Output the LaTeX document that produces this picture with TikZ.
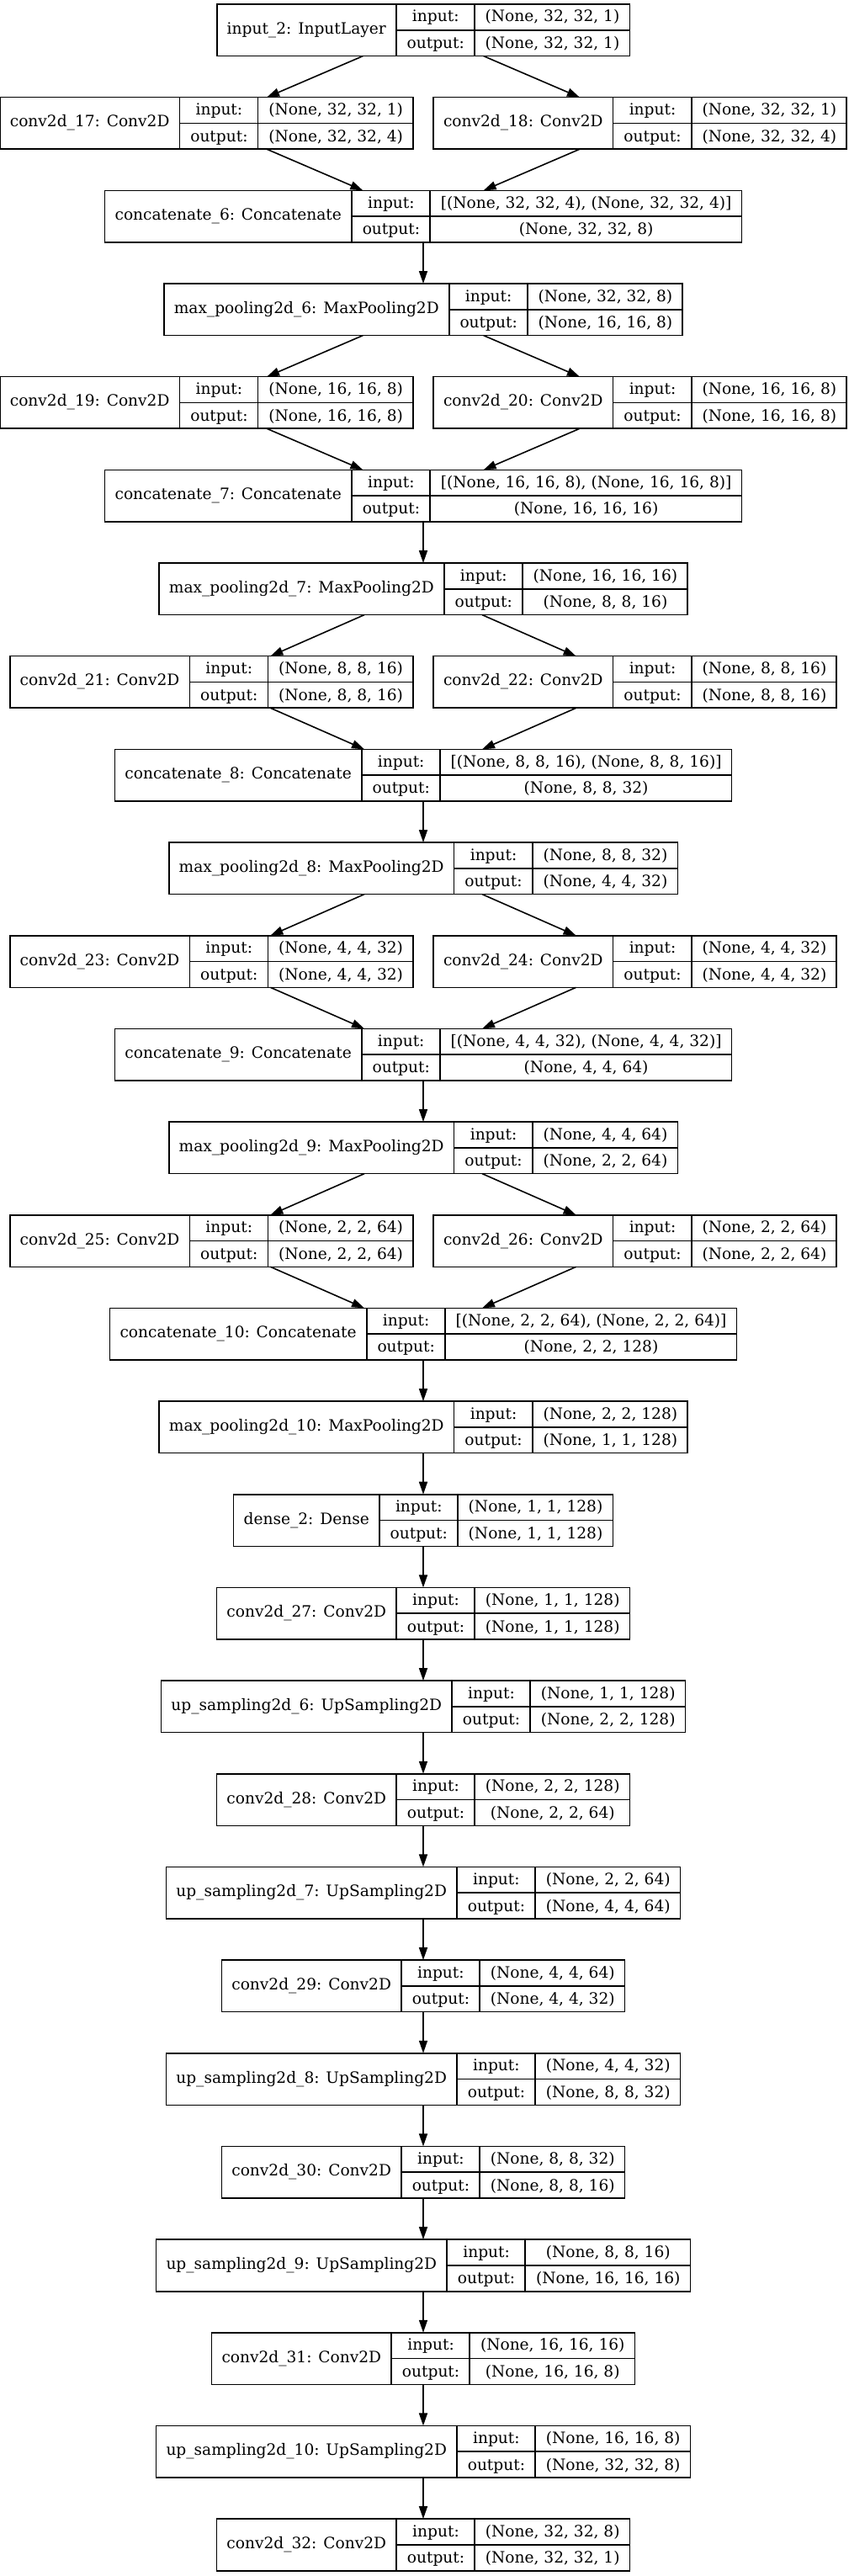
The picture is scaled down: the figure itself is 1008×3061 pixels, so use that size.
\documentclass[tikz,border=0pt]{standalone}
\usepackage{fontspec}
\setmainfont{DejaVu Serif}
\usetikzlibrary{arrows.meta}

\newcommand{\recfont}{\fontsize{9.3}{11}\selectfont}
\newcommand{\recstrut}{\rule[-4.5pt]{0pt}{15pt}}
\setlength{\arrayrulewidth}{0.8pt}

% one layer record: node name, anchor, x, row, title, input shape, output shape
\newcommand{\layerbox}[7]{%
	\node[recbox, anchor=#2] (#1) at (#3, {5+110.67*#4}) {%
		\begin{tabular}{@{\hspace{6pt}}c@{\hspace{6pt}}|@{}c@{}}
			#5 &
			\begin{tabular}{@{\hspace{6pt}}c@{\hspace{6pt}}|@{\hspace{6pt}}c@{\hspace{6pt}}}
				input: & #6\recstrut \\ \hline
				output: & #7\recstrut
			\end{tabular}
		\end{tabular}};
}

\begin{document}
\begin{tikzpicture}[x=0.5pt, y=-0.5pt,
		recbox/.style={draw=black, line width=0.8pt, rectangle, inner sep=0pt, outer sep=0pt, font=\recfont},
		arr/.style={draw=black, line width=0.8pt, -{Triangle[length=7.5pt, width=5pt]}}]
	\useasboundingbox (0,0) rectangle (1008,3061);
	
	% ENCODER
	\layerbox{in2}{north}{503}{0}{input\_2: InputLayer}{(None, 32, 32, 1)}{(None, 32, 32, 1)}
	\layerbox{c17}{north east}{491}{1}{conv2d\_17: Conv2D}{(None, 32, 32, 1)}{(None, 32, 32, 4)}
	\layerbox{c18}{north west}{515}{1}{conv2d\_18: Conv2D}{(None, 32, 32, 1)}{(None, 32, 32, 4)}
	\layerbox{cat6}{north}{503}{2}{concatenate\_6: Concatenate}{[(None, 32, 32, 4), (None, 32, 32, 4)]}{(None, 32, 32, 8)}
	\layerbox{mp6}{north}{503}{3}{max\_pooling2d\_6: MaxPooling2D}{(None, 32, 32, 8)}{(None, 16, 16, 8)}
	\layerbox{c19}{north east}{491}{4}{conv2d\_19: Conv2D}{(None, 16, 16, 8)}{(None, 16, 16, 8)}
	\layerbox{c20}{north west}{515}{4}{conv2d\_20: Conv2D}{(None, 16, 16, 8)}{(None, 16, 16, 8)}
	\layerbox{cat7}{north}{503}{5}{concatenate\_7: Concatenate}{[(None, 16, 16, 8), (None, 16, 16, 8)]}{(None, 16, 16, 16)}
	\layerbox{mp7}{north}{503}{6}{max\_pooling2d\_7: MaxPooling2D}{(None, 16, 16, 16)}{(None, 8, 8, 16)}
	\layerbox{c21}{north east}{491}{7}{conv2d\_21: Conv2D}{(None, 8, 8, 16)}{(None, 8, 8, 16)}
	\layerbox{c22}{north west}{515}{7}{conv2d\_22: Conv2D}{(None, 8, 8, 16)}{(None, 8, 8, 16)}
	\layerbox{cat8}{north}{503}{8}{concatenate\_8: Concatenate}{[(None, 8, 8, 16), (None, 8, 8, 16)]}{(None, 8, 8, 32)}
	\layerbox{mp8}{north}{503}{9}{max\_pooling2d\_8: MaxPooling2D}{(None, 8, 8, 32)}{(None, 4, 4, 32)}
	\layerbox{c23}{north east}{491}{10}{conv2d\_23: Conv2D}{(None, 4, 4, 32)}{(None, 4, 4, 32)}
	\layerbox{c24}{north west}{515}{10}{conv2d\_24: Conv2D}{(None, 4, 4, 32)}{(None, 4, 4, 32)}
	\layerbox{cat9}{north}{503}{11}{concatenate\_9: Concatenate}{[(None, 4, 4, 32), (None, 4, 4, 32)]}{(None, 4, 4, 64)}
	\layerbox{mp9}{north}{503}{12}{max\_pooling2d\_9: MaxPooling2D}{(None, 4, 4, 64)}{(None, 2, 2, 64)}
	\layerbox{c25}{north east}{491}{13}{conv2d\_25: Conv2D}{(None, 2, 2, 64)}{(None, 2, 2, 64)}
	\layerbox{c26}{north west}{515}{13}{conv2d\_26: Conv2D}{(None, 2, 2, 64)}{(None, 2, 2, 64)}
	\layerbox{cat10}{north}{503}{14}{concatenate\_10: Concatenate}{[(None, 2, 2, 64), (None, 2, 2, 64)]}{(None, 2, 2, 128)}
	\layerbox{mp10}{north}{503}{15}{max\_pooling2d\_10: MaxPooling2D}{(None, 2, 2, 128)}{(None, 1, 1, 128)}
	
	% BOTTLENECK AND DECODER
	\layerbox{d2}{north}{503}{16}{dense\_2: Dense}{(None, 1, 1, 128)}{(None, 1, 1, 128)}
	\layerbox{c27}{north}{503}{17}{conv2d\_27: Conv2D}{(None, 1, 1, 128)}{(None, 1, 1, 128)}
	\layerbox{up6}{north}{503}{18}{up\_sampling2d\_6: UpSampling2D}{(None, 1, 1, 128)}{(None, 2, 2, 128)}
	\layerbox{c28}{north}{503}{19}{conv2d\_28: Conv2D}{(None, 2, 2, 128)}{(None, 2, 2, 64)}
	\layerbox{up7}{north}{503}{20}{up\_sampling2d\_7: UpSampling2D}{(None, 2, 2, 64)}{(None, 4, 4, 64)}
	\layerbox{c29}{north}{503}{21}{conv2d\_29: Conv2D}{(None, 4, 4, 64)}{(None, 4, 4, 32)}
	\layerbox{up8}{north}{503}{22}{up\_sampling2d\_8: UpSampling2D}{(None, 4, 4, 32)}{(None, 8, 8, 32)}
	\layerbox{c30}{north}{503}{23}{conv2d\_30: Conv2D}{(None, 8, 8, 32)}{(None, 8, 8, 16)}
	\layerbox{up9}{north}{503}{24}{up\_sampling2d\_9: UpSampling2D}{(None, 8, 8, 16)}{(None, 16, 16, 16)}
	\layerbox{c31}{north}{503}{25}{conv2d\_31: Conv2D}{(None, 16, 16, 16)}{(None, 16, 16, 8)}
	\layerbox{up10}{north}{503}{26}{up\_sampling2d\_10: UpSampling2D}{(None, 16, 16, 8)}{(None, 32, 32, 8)}
	\layerbox{c32}{north}{503}{27}{conv2d\_32: Conv2D}{(None, 32, 32, 8)}{(None, 32, 32, 1)}
	
	% Connections
	\draw[arr] (in2) -- (c17);
	\draw[arr] (in2) -- (c18);
	\draw[arr] (c17) -- (cat6);
	\draw[arr] (c18) -- (cat6);
	\draw[arr] (cat6) -- (mp6);
	\draw[arr] (mp6) -- (c19);
	\draw[arr] (mp6) -- (c20);
	\draw[arr] (c19) -- (cat7);
	\draw[arr] (c20) -- (cat7);
	\draw[arr] (cat7) -- (mp7);
	\draw[arr] (mp7) -- (c21);
	\draw[arr] (mp7) -- (c22);
	\draw[arr] (c21) -- (cat8);
	\draw[arr] (c22) -- (cat8);
	\draw[arr] (cat8) -- (mp8);
	\draw[arr] (mp8) -- (c23);
	\draw[arr] (mp8) -- (c24);
	\draw[arr] (c23) -- (cat9);
	\draw[arr] (c24) -- (cat9);
	\draw[arr] (cat9) -- (mp9);
	\draw[arr] (mp9) -- (c25);
	\draw[arr] (mp9) -- (c26);
	\draw[arr] (c25) -- (cat10);
	\draw[arr] (c26) -- (cat10);
	\draw[arr] (cat10) -- (mp10);
	\draw[arr] (mp10) -- (d2);
	\draw[arr] (d2) -- (c27);
	\draw[arr] (c27) -- (up6);
	\draw[arr] (up6) -- (c28);
	\draw[arr] (c28) -- (up7);
	\draw[arr] (up7) -- (c29);
	\draw[arr] (c29) -- (up8);
	\draw[arr] (up8) -- (c30);
	\draw[arr] (c30) -- (up9);
	\draw[arr] (up9) -- (c31);
	\draw[arr] (c31) -- (up10);
	\draw[arr] (up10) -- (c32);
	
\end{tikzpicture}
\end{document}
